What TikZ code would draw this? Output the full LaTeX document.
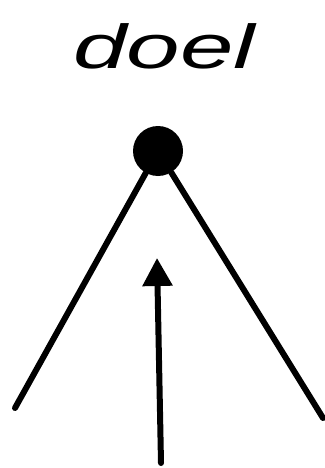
\documentclass[tikz,border=0pt]{standalone}
\usepackage{fontspec}
\setmainfont{Liberation Sans}
\usetikzlibrary{arrows.meta}
\begin{document}
\begin{tikzpicture}[x=1pt,y=-1pt,
  stroke/.style={line width=6pt,line cap=round},
  lbl/.style={font=\fontsize{62}{62}\selectfont\itshape,inner sep=0pt,xscale=1.55}]
\useasboundingbox (0,0) rectangle (324,468);
\node[lbl] (doel) at (164,46) {doel};
\node[circle,fill=black,minimum size=50pt,inner sep=0pt] (top) at (158,151) {};
\coordinate (lend) at (15,408);
\coordinate (rend) at (323,418);
\coordinate (abase) at (161,463);
\coordinate (atip) at (157,258);
\draw[stroke] (top) -- (lend);
\draw[stroke] (top) -- (rend);
\draw[stroke,-{Triangle[length=28pt,width=29pt]}] (abase) -- (atip);
\end{tikzpicture}
\end{document}
